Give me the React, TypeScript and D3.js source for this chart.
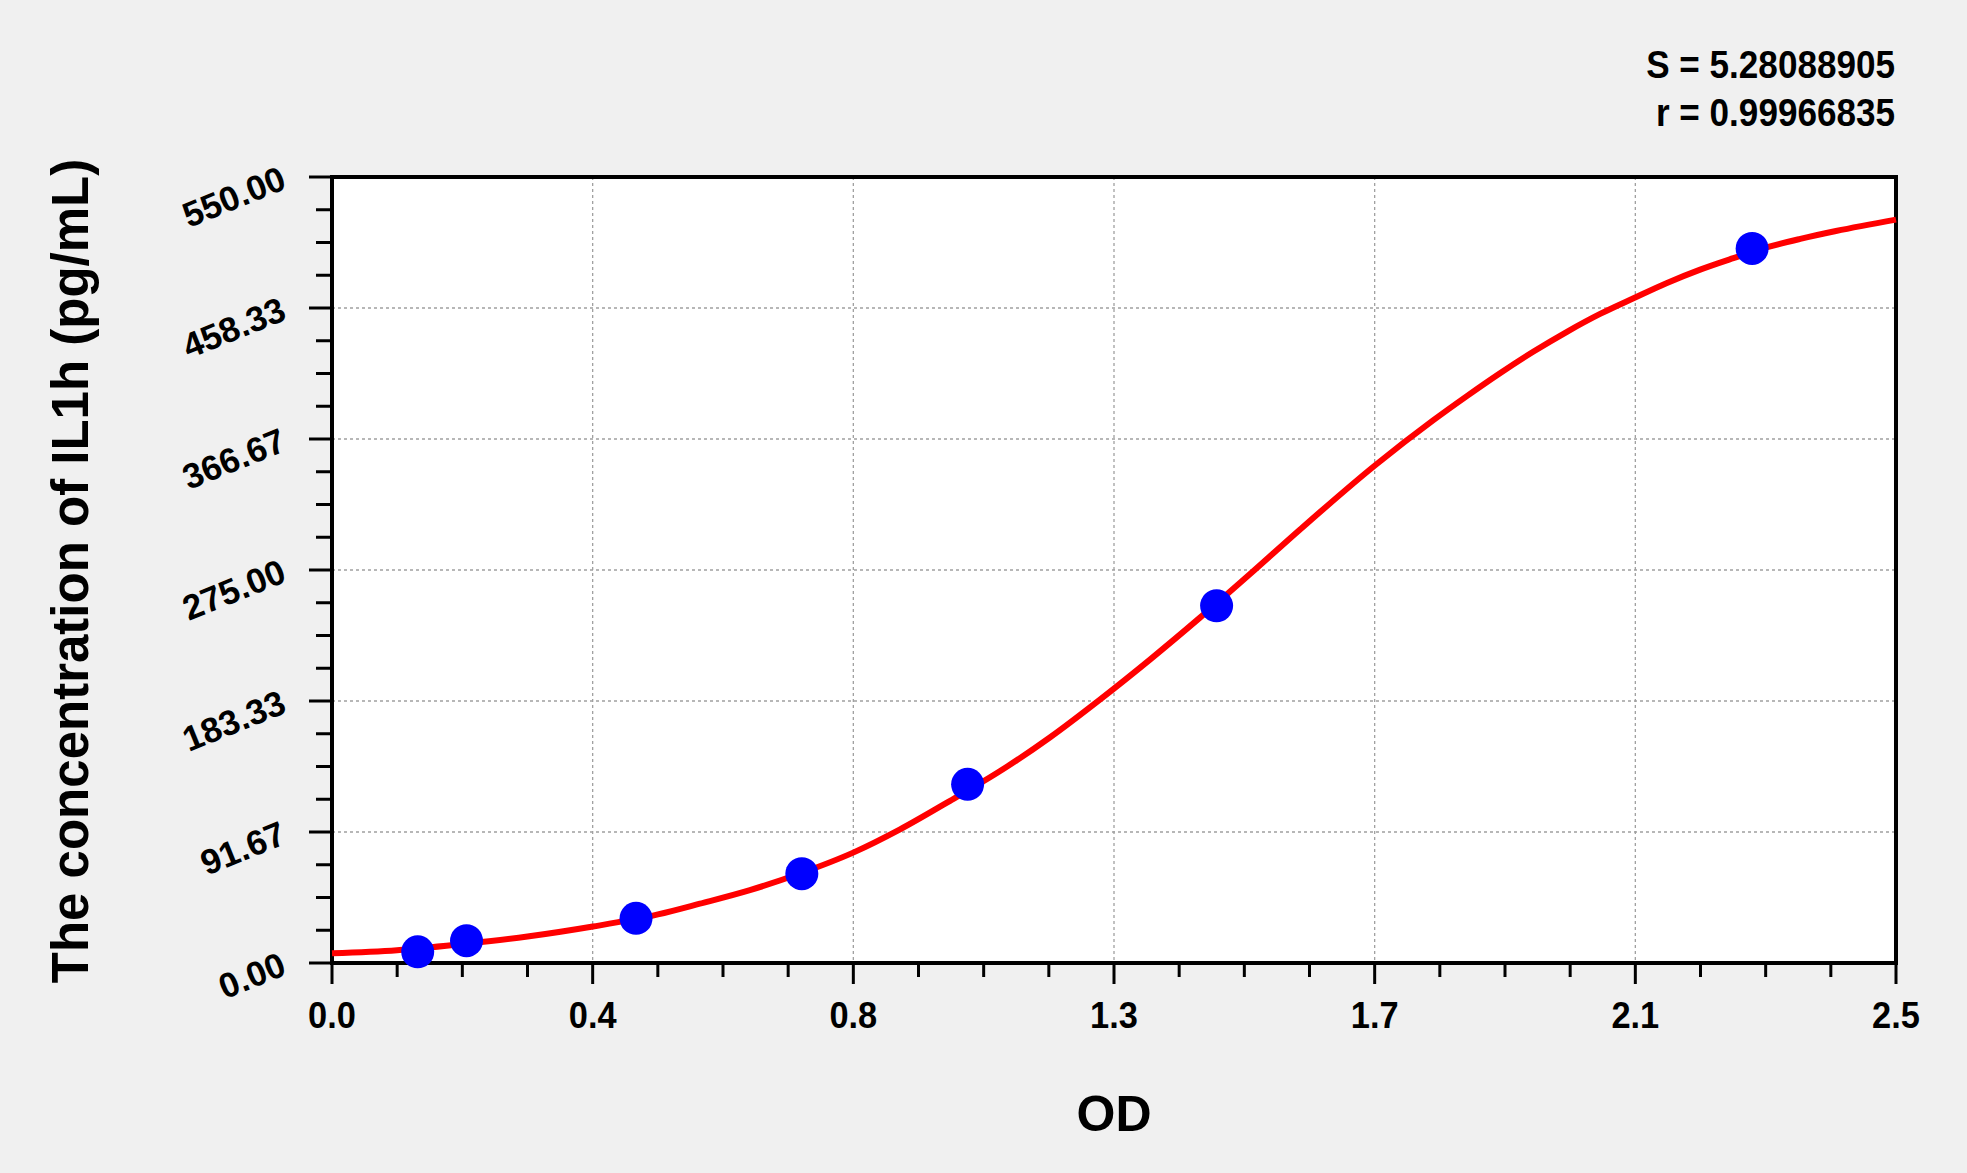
import React, { useRef, useEffect } from 'react';
import * as d3 from 'd3';

// standard points (OD vs concentration)
const pointOD = [0.137, 0.215, 0.486, 0.751, 1.016, 1.414, 2.27];
const pointConc = [7.8, 15.6, 31.25, 62.5, 125, 250, 500];

// fitted curve
const curveOD = [
  0, 0.104, 0.208, 0.3125, 0.417, 0.521, 0.588, 0.668, 0.748, 0.834, 0.908,
  0.988, 1.068, 1.148, 1.228, 1.308, 1.387, 1.467, 1.547, 1.668, 1.76, 1.814,
  1.867, 1.92, 1.974, 2.027, 2.083, 2.133, 2.187, 2.24, 2.293, 2.347, 2.404, 2.5,
];
const curveConc = [
  6.8, 9.0, 13.3, 18.5, 25.5, 34.0, 41.5, 51.0, 62.6, 77.4, 93.5, 113.5, 134.3,
  158.0, 184.5, 212.5, 241.5, 272.0, 303.2, 348.5, 379.7, 396.7, 412.7, 427.7,
  441.7, 454.2, 465.7, 475.7, 485.2, 493.2, 500.7, 506.7, 512.2, 520.2,
];

const xTickLabels = ['0.0', '0.4', '0.8', '1.3', '1.7', '2.1', '2.5'];
const yTickLabels = ['0.00', '91.67', '183.33', '275.00', '366.67', '458.33', '550.00'];

const xMax = 2.5;
const yMax = 550;
const statLines = ['S = 5.28088905', 'r = 0.99966835'];
const xTitle = 'OD';
const yTitle = 'The concentration of IL1h (pg/mL)';

const W = 1967;
const H = 1173;
const FONT = '"Liberation Sans", Arial, sans-serif';

const App: React.FC = () => {
  const svgRef = useRef<SVGSVGElement>(null);

  useEffect(() => {
    if (!svgRef.current) return;
    const svg = d3.select(svgRef.current);
    svg.selectAll('*').remove();

    const margin = { top: 177, left: 332, right: 71, bottom: 210 };
    const innerWidth = W - margin.left - margin.right;
    const innerHeight = H - margin.top - margin.bottom;

    const xScale = d3.scaleLinear().domain([0, xMax]).range([0, innerWidth]);
    const yScale = d3.scaleLinear().domain([0, yMax]).range([innerHeight, 0]);

    svg.append('rect').attr('width', W).attr('height', H).attr('fill', '#f0f0f0');

    const g = svg
      .append('g')
      .attr('transform', `translate(${margin.left},${margin.top})`);

    g.append('rect')
      .attr('width', innerWidth)
      .attr('height', innerHeight)
      .attr('fill', '#ffffff');

    const nMajor = xTickLabels.length - 1;
    const xMajor = xTickLabels.map((_, i) => (xMax * i) / nMajor);
    const yMajor = yTickLabels.map((_, i) => (yMax * i) / nMajor);
    const xMinor = d3.range(nMajor * 4 + 1).map((i) => (xMax * i) / (nMajor * 4));
    const yMinor = d3.range(nMajor * 4 + 1).map((i) => (yMax * i) / (nMajor * 4));

    // grid lines
    g.append('g')
      .selectAll('line')
      .data(xMajor.slice(1, -1))
      .enter()
      .append('line')
      .attr('x1', (d) => xScale(d))
      .attr('x2', (d) => xScale(d))
      .attr('y1', 0)
      .attr('y2', innerHeight)
      .attr('stroke', '#a0a0a0')
      .attr('stroke-width', 1.3)
      .attr('stroke-dasharray', '3,3');

    g.append('g')
      .selectAll('line')
      .data(yMajor.slice(1, -1))
      .enter()
      .append('line')
      .attr('x1', 0)
      .attr('x2', innerWidth)
      .attr('y1', (d) => yScale(d))
      .attr('y2', (d) => yScale(d))
      .attr('stroke', '#a0a0a0')
      .attr('stroke-width', 1.3)
      .attr('stroke-dasharray', '3,3');

    // ticks
    g.append('g')
      .selectAll('line')
      .data(xMinor)
      .enter()
      .append('line')
      .attr('x1', (d) => xScale(d))
      .attr('x2', (d) => xScale(d))
      .attr('y1', innerHeight)
      .attr('y2', (d, i) => innerHeight + (i % 4 === 0 ? 21 : 14))
      .attr('stroke', '#000')
      .attr('stroke-width', 3);

    g.append('g')
      .selectAll('line')
      .data(yMinor)
      .enter()
      .append('line')
      .attr('x1', 0)
      .attr('x2', (d, i) => (i % 4 === 0 ? -23 : -16))
      .attr('y1', (d) => yScale(d))
      .attr('y2', (d) => yScale(d))
      .attr('stroke', '#000')
      .attr('stroke-width', 3);

    // frame
    g.append('rect')
      .attr('width', innerWidth)
      .attr('height', innerHeight)
      .attr('fill', 'none')
      .attr('stroke', '#000')
      .attr('stroke-width', 4);

    // x tick labels (slightly condensed like the original)
    g.append('g')
      .selectAll('text')
      .data(xMajor)
      .enter()
      .append('text')
      .attr('transform', (d) => `translate(${xScale(d)},${innerHeight + 65}) scale(0.93,1)`)
      .attr('text-anchor', 'middle')
      .attr('font-family', FONT)
      .attr('font-weight', 'bold')
      .attr('font-size', 37)
      .text((d, i) => xTickLabels[i]);

    // y tick labels, slanted
    g.append('g')
      .selectAll('text')
      .data(yMajor)
      .enter()
      .append('text')
      .attr('x', -44)
      .attr('y', (d) => yScale(d) + 11)
      .attr('transform', (d) => `rotate(-22, -44, ${yScale(d) + 11})`)
      .attr('text-anchor', 'end')
      .attr('font-family', FONT)
      .attr('font-weight', 'bold')
      .attr('font-size', 35)
      .text((d, i) => yTickLabels[i]);

    // fitted curve
    const line = d3
      .line<number>()
      .x((d) => xScale(d))
      .y((d, i) => yScale(curveConc[i]))
      .curve(d3.curveMonotoneX);

    g.append('path')
      .datum(curveOD)
      .attr('fill', 'none')
      .attr('stroke', '#ff0000')
      .attr('stroke-width', 6)
      .attr('d', line);

    // points
    g.append('g')
      .selectAll('circle')
      .data(pointOD)
      .enter()
      .append('circle')
      .attr('cx', (d) => xScale(d))
      .attr('cy', (d, i) => yScale(pointConc[i]))
      .attr('r', 16.5)
      .attr('fill', '#0000ff');

    // axis titles
    svg
      .append('text')
      .attr('x', margin.left + innerWidth / 2)
      .attr('y', 1131)
      .attr('text-anchor', 'middle')
      .attr('font-family', FONT)
      .attr('font-weight', 'bold')
      .attr('font-size', 50)
      .text(xTitle);

    svg
      .append('text')
      .attr('transform', `translate(88,${margin.top + innerHeight / 2 + 1}) rotate(-90)`)
      .attr('text-anchor', 'middle')
      .attr('font-family', FONT)
      .attr('font-weight', 'bold')
      .attr('font-size', 51)
      .text(yTitle);

    // fit statistics
    svg
      .append('g')
      .selectAll('text')
      .data(statLines)
      .enter()
      .append('text')
      .attr('transform', (d, i) => `translate(${margin.left + innerWidth - 1},${78 + i * 48}) scale(0.9,1)`)
      .attr('text-anchor', 'end')
      .attr('font-family', FONT)
      .attr('font-weight', 'bold')
      .attr('font-size', 39)
      .text((d) => d);
  }, []);

  return (
    <div style={{ position: 'absolute', left: 0, top: 0 }}>
      <svg ref={svgRef} width={W} height={H} style={{ display: 'block' }} />
    </div>
  );
};

export default App;
